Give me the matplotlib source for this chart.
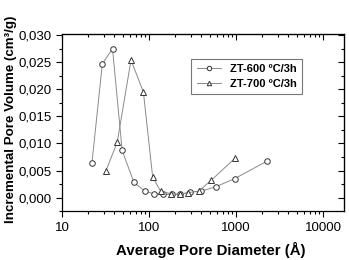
import matplotlib
matplotlib.use("Agg")
import matplotlib.pyplot as plt
from matplotlib.ticker import FixedLocator, LogLocator, NullFormatter, FuncFormatter

# Data
d600 = [22, 29, 38, 49, 67, 90, 115, 145, 183, 229, 293, 398, 586, 966, 2250]
v600 = [0.0063, 0.0247, 0.0275, 0.0087, 0.0028, 0.00115, 0.0007, 0.0006,
        0.0006, 0.0006, 0.0010, 0.0012, 0.0020, 0.0035, 0.0067]
d700 = [32, 43, 62, 86, 110, 136, 181, 225, 280, 374, 519, 977]
v700 = [0.0050, 0.0102, 0.0254, 0.0195, 0.0038, 0.00115, 0.0007, 0.0006,
        0.0009, 0.0012, 0.0032, 0.0073]
labels = ["ZT-600 ºC/3h", "ZT-700 ºC/3h"]
yticks = [0.000, 0.005, 0.010, 0.015, 0.020, 0.025, 0.030]
yminor = [-0.0025, 0.0025, 0.0075, 0.0125, 0.0175, 0.0225, 0.0275]

plt.rcParams['font.family'] = ['Liberation Sans', 'DejaVu Sans']

fig = plt.figure(figsize=(3.49, 2.60), dpi=100)
ax = fig.add_axes([0.178, 0.188, 0.808, 0.681])

ax.plot(d600, v600, '-', color='#8a8a8a', lw=0.7, marker='o', ms=4,
        mfc='white', mec='#333333', mew=0.7, label=labels[0])
ax.plot(d700, v700, '-', color='#8a8a8a', lw=0.7, marker='^', ms=4,
        mfc='white', mec='#333333', mew=0.7, label=labels[1])

ax.set_xscale('log')
ax.set_xlim(10, 17500)
ax.set_ylim(-0.0025, 0.0302)
ax.yaxis.set_major_locator(FixedLocator(yticks))
ax.yaxis.set_minor_locator(FixedLocator(yminor))
ax.yaxis.set_major_formatter(FuncFormatter(lambda v, p: f"{v:.3f}".replace('.', ',')))
ax.xaxis.set_major_locator(LogLocator(base=10))
ax.xaxis.set_minor_locator(LogLocator(base=10, subs=range(2, 10)))
ax.xaxis.set_minor_formatter(NullFormatter())
ax.xaxis.set_major_formatter(FuncFormatter(lambda v, p: f"{int(round(v))}"))

ax.tick_params(which='both', direction='out', top=False, right=False, labelsize=9.5, width=0.8)
ax.tick_params(which='major', length=4)
ax.tick_params(which='minor', length=2)
ax2 = ax.secondary_xaxis('top')
ax2.tick_params(which='both', direction='in', labeltop=False, width=0.8)
ax2.tick_params(which='major', length=4)
ax2.tick_params(which='minor', length=2)
ax2.xaxis.set_major_locator(LogLocator(base=10))
ax2.xaxis.set_minor_locator(LogLocator(base=10, subs=range(2, 10)))
ax2.xaxis.set_major_formatter(NullFormatter())
ax2.xaxis.set_minor_formatter(NullFormatter())
ay2 = ax.secondary_yaxis('right')
ay2.tick_params(which='both', direction='in', labelright=False, width=0.8)
ay2.tick_params(which='major', length=4)
ay2.tick_params(which='minor', length=2)
ay2.yaxis.set_major_locator(FixedLocator(yticks))
ay2.yaxis.set_minor_locator(FixedLocator(yminor[1:]))
ay2.yaxis.set_major_formatter(NullFormatter())

for s in ax.spines.values():
    s.set_linewidth(0.9)

ax.set_xlabel("Average Pore Diameter (Å)", fontsize=10.8, fontweight='bold')
ax.xaxis.set_label_coords(0.528, -0.175)
ax.set_ylabel("Incremental Pore Volume (cm³/g)", fontsize=9.6, fontweight='bold')
ax.yaxis.set_label_coords(-0.16, 0.52)
ax.yaxis.label.set_va('bottom')

leg = ax.legend(loc='upper right', bbox_to_anchor=(0.872, 0.893),
                prop={'weight': 'bold', 'size': 8}, frameon=True, fancybox=False,
                edgecolor='#555555', handlelength=2.2, borderpad=0.5, labelspacing=0.4,
                markerscale=0.8)
leg.get_frame().set_linewidth(0.8)

fig.savefig("out.png", dpi=100)
